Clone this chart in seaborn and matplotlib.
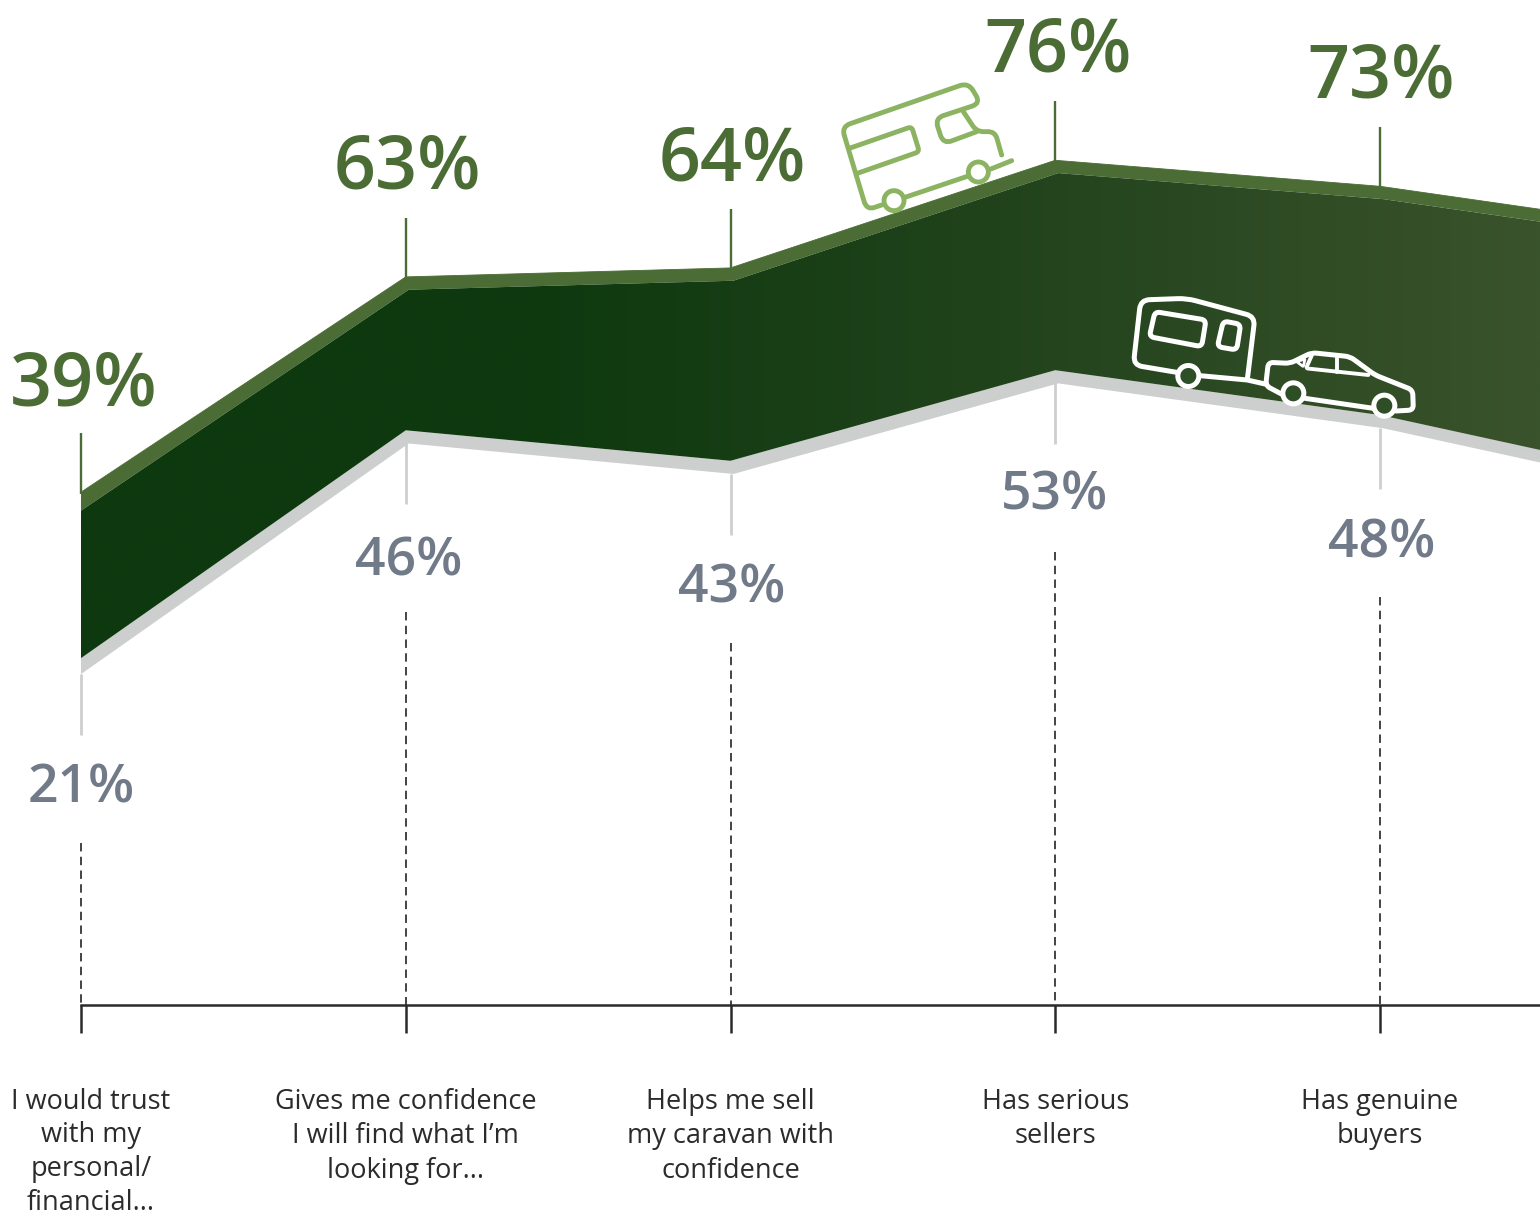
import numpy as np
import pandas as pd
import matplotlib
matplotlib.use("Agg")
import matplotlib.pyplot as plt
import seaborn as sns
from matplotlib.colors import LinearSegmentedColormap
from matplotlib.path import Path
from matplotlib.patches import PathPatch, Circle
from matplotlib.transforms import Affine2D

# ---------- data ----------
categories = [
    "I would trust\nwith my\npersonal/\nfinancial...",
    "Gives me confidence\nI will find what I’m\nlooking for...",
    "Helps me sell\nmy caravan with\nconfidence",
    "Has serious\nsellers",
    "Has genuine\nbuyers",
]
positions = [0, 1, 2, 3, 4, 5]                     # the sixth runs off the picture
upper_values = [39.0, 63.0, 64.0, 76.0, 73.1, 67.9]
lower_values = [20.5, 45.9, 42.5, 52.6, 47.6, 39.7]
upper_labels = ["39%", "63%", "64%", "76%", "73%"]
lower_labels = ["21%", "46%", "43%", "53%", "48%"]

GREEN, GREY_BAND, GREY_TEXT = "#4b6d35", "#cdcfce", "#717a88"
INK = "#2b2b2b"
FONT = ["Open Sans", "DejaVu Sans"]

sns.set_theme(style="white")
plt.rcParams["font.family"] = FONT

W, H = 1540, 1216
fig = plt.figure(figsize=(W / 100, H / 100), dpi=100, facecolor="white")

AXIS_PX = 1005
ax = fig.add_axes([0, 1 - AXIS_PX / H, 1, AXIS_PX / H])
px_per_cat, x0_px = 324.75, 81
px_per_pct, zero_px = 8.97, 842
ax.set_xlim(-x0_px / px_per_cat, (W - x0_px) / px_per_cat)
ax.set_ylim((zero_px - AXIS_PX) / px_per_pct, zero_px / px_per_pct)
pct = lambda p: p / px_per_pct      # pixel length -> percentage points

df = pd.DataFrame({"x": positions, "upper": upper_values, "lower": lower_values})
x = df["x"].to_numpy(float)
upper = df["upper"].to_numpy()
lower = df["lower"].to_numpy()

# ribbon edge strips: their inner corners sit a few pixels right of the outer ones
top_depth = np.array([pct(18.5)] + [pct(12.8)] * 5)
low_depth = np.array([pct(16)] + [pct(13.2)] * 5)
inner_x = x + np.array([0] + [3 / px_per_cat] * 5)

upper_inner = upper - top_depth
lower_outer = lower - low_depth

ax.fill(np.r_[x, inner_x[::-1]], np.r_[upper, upper_inner[::-1]], color=GREEN, lw=0, zorder=2)
ax.fill(np.r_[x, inner_x[::-1]], np.r_[lower, lower_outer[::-1]], color=GREY_BAND, lw=0, zorder=2)

# ribbon body with horizontal gradient
cmap = LinearSegmentedColormap.from_list(
    "ribbon", [(0, "#0e390f"), (0.31, "#0e390f"), (0.63, "#21431c"), (1, "#3a532c")])
body_xy = np.c_[np.r_[inner_x, x[::-1]], np.r_[upper_inner, lower[::-1]]]
xl, yl = ax.get_xlim(), ax.get_ylim()
img = ax.imshow(np.linspace(0, 1, 512)[None, :], cmap=cmap, aspect="auto",
                extent=[0, xl[1], yl[0], yl[1]], zorder=3, interpolation="bilinear")
img.set_clip_path(Path(np.vstack([body_xy, body_xy[:1]]), closed=True), transform=ax.transData)
ax.set_xlim(xl); ax.set_ylim(yl)

sns.lineplot(data=df, x="x", y="upper", color=GREEN, lw=0.6, ax=ax, zorder=2)
sns.lineplot(data=df, x="x", y="lower", color=GREY_BAND, lw=0.3, ax=ax, zorder=1)

# leaders, labels
n = len(categories)
up_nudge = [-1, 0, -1, 1, 1]
lo_nudge = [0, 4, 1, -2, 1]
up_shift = [1, 0, 1, 2, 0]
lo_shift = [-1, 2, 0, -2, 0]
for i in range(n):
    ax.plot([i, i], [upper[i] - pct(2), upper[i] + pct(59)], color=GREEN, lw=1.7,
            solid_capstyle="butt", zorder=2)
    lo_edge = lower[i] - low_depth[i]
    ax.plot([i, i], [lo_edge, lo_edge - pct(61)], color=GREY_BAND, lw=2,
            solid_capstyle="butt", zorder=2)
    ax.plot([i, i], [lo_edge - pct(169), yl[0]], color="#111111", lw=1.1,
            dashes=(5.5, 3.5), zorder=2)
    ax.text(i + 0.004 + up_shift[i] / px_per_cat, upper[i] + pct(88 + up_nudge[i]), upper_labels[i],
            ha="center", va="baseline", fontsize=53, fontweight="semibold", color=GREEN, family=FONT)
    ax.text(i + 0.004 + lo_shift[i] / px_per_cat, lo_edge - pct(128 + lo_nudge[i]), lower_labels[i],
            ha="center", va="baseline", fontsize=38.5, fontweight="semibold", color=GREY_TEXT, family=FONT)

# axis
for s in ("top", "left", "right"):
    ax.spines[s].set_visible(False)
ax.spines["bottom"].set_bounds(0, xl[1])
ax.spines["bottom"].set_color(INK)
ax.spines["bottom"].set_linewidth(1.8)
ax.set_yticks([])
ax.set_xlabel(""); ax.set_ylabel("")
ax.set_xticks(range(n))
ax.set_xticklabels(categories, fontsize=19.5, color=INK, linespacing=1.31, family=FONT)
ax.tick_params(axis="x", direction="out", length=20, width=1.8, color=INK, pad=39.5, bottom=True)
# first label sits a little right of its tick and must stay inside the picture
fig.canvas.draw()
offset = Affine2D().translate(10, 0)
first = ax.get_xticklabels()[0]
first.set_transform(first.get_transform() + offset)
first.set_linespacing(1.27)

# ---------- icons (decoration, in picture pixels) ----------
px = Affine2D().scale(1 / W, -1 / H).translate(0, 1) + fig.transFigure


def rounded(pts, r=6, closed=False):
    pts = [np.array(p, float) for p in pts]
    verts, codes = [], []
    m = len(pts)
    def toward(a, b, d):
        v = b - a
        L = np.hypot(*v)
        return a + v / L * min(d, L / 2)
    if closed:
        start = toward(pts[0], pts[1], r)
        verts.append(start); codes.append(Path.MOVETO)
        for k in range(1, m + 1):
            p, q, nxt = pts[k - 1], pts[k % m], pts[(k + 1) % m]
            verts += [toward(q, p, r), q, toward(q, nxt, r)]
            codes += [Path.LINETO, Path.CURVE3, Path.CURVE3]
        verts.append(start); codes.append(Path.CLOSEPOLY)
    else:
        verts.append(pts[0]); codes.append(Path.MOVETO)
        for k in range(1, m - 1):
            p, q, nxt = pts[k - 1], pts[k], pts[k + 1]
            verts += [toward(q, p, r), q, toward(q, nxt, r)]
            codes += [Path.LINETO, Path.CURVE3, Path.CURVE3]
        verts.append(pts[-1]); codes.append(Path.LINETO)
    return Path(np.array(verts), codes)


def stroke(path, color, lw):
    fig.add_artist(PathPatch(path, fc="none", ec=color, lw=lw, transform=px, capstyle="round",
                             joinstyle="round", zorder=6))


def wheel(c, r, color, fill, lw):
    fig.add_artist(Circle(c, r, fc=fill, ec=color, lw=lw, transform=px, zorder=7))


def z1(*p):
    return [(820 + a / 3, 70 + b / 3) for a, b in p]


def z2(*p):
    return [(1120 + a / 3, 285 + b / 3) for a, b in p]


CAMPER, LW1 = "#8bb362", 3.5
stroke(rounded(z1((185, 405), (140, 420), (65, 170), (445, 38), (482, 100), (345, 145),
                  (370, 222), (470, 185)), 9), CAMPER, LW1)
stroke(rounded(z1((430, 125), (470, 185), (525, 185), (545, 255)), 7), CAMPER, LW1)
stroke(rounded(z1((88, 235), (275, 170), (298, 245), (112, 310)), 4), CAMPER, LW1)
stroke(rounded(z1((255, 382), (445, 318)), 1), CAMPER, LW1)
stroke(rounded(z1((510, 298), (575, 272)), 1), CAMPER, LW1)
wheel(z1((222, 392))[0], 10, CAMPER, "white", LW1)
wheel(z1((475, 306))[0], 10, CAMPER, "white", LW1)

TOW, LW2, FILL = "white", 3.6, "#2e4e26"
stroke(rounded(z2((170, 262), (40, 240), (62, 45), (200, 40), (405, 95), (382, 283)), 9), TOW, LW2)
stroke(rounded(z2((240, 272), (382, 285), (435, 297)), 1), TOW, LW2)
stroke(rounded(z2((105, 80), (258, 105), (245, 185), (88, 155)), 5, closed=True), TOW, LW2)
stroke(rounded(z2((310, 108), (362, 118), (350, 195), (292, 185)), 5, closed=True), TOW, LW2)
stroke(rounded(z2((490, 330), (437, 302), (445, 232), (510, 235), (575, 203), (690, 215),
                  (765, 270), (878, 315), (880, 375), (828, 378)), 5), TOW, LW2)
stroke(rounded(z2((760, 370), (555, 340)), 1), TOW, LW2)
stroke(rounded(z2((575, 212), (558, 250), (745, 270)), 2), TOW, 2.8)
stroke(rounded(z2((652, 218), (652, 260)), 1), TOW, 2.8)
stroke(rounded(z2((530, 230), (555, 222), (550, 245), (530, 230)), 1), TOW, 2)
wheel(z2((205, 273))[0], 10.5, TOW, FILL, LW2)
wheel(z2((520, 325))[0], 10.5, TOW, FILL, LW2)
wheel(z2((793, 362))[0], 10.5, TOW, FILL, LW2)

fig.savefig("out.png", dpi=100)
